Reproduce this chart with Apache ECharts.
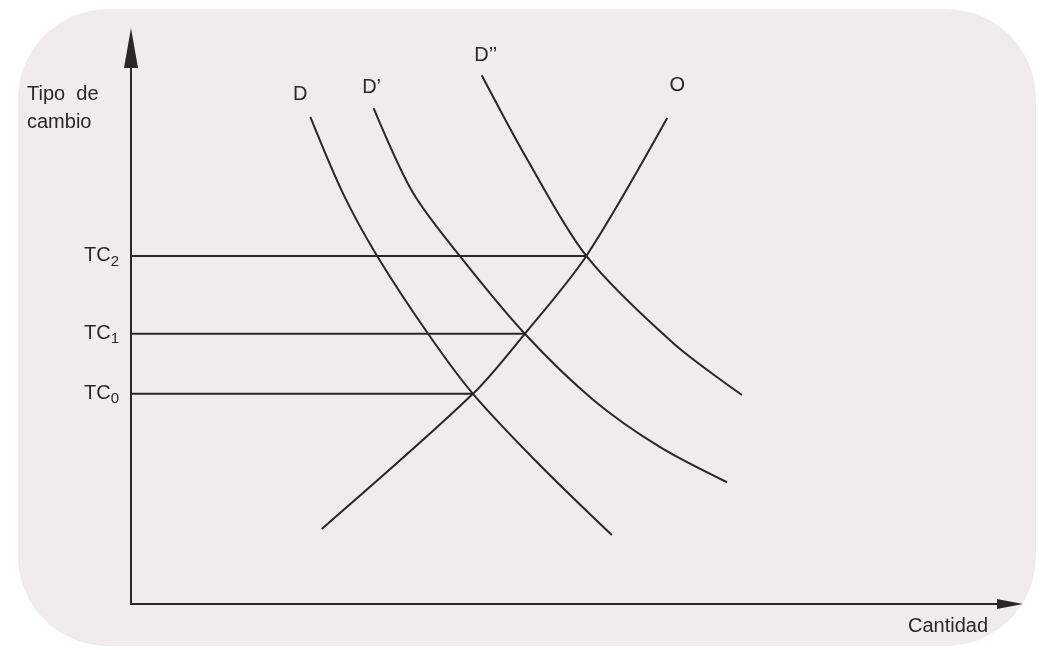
<!DOCTYPE html>
<html lang="es">
<head>
	<meta charset="UTF-8">
	<title>Tipo de cambio</title>
	<script src="https://cdn.jsdelivr.net/npm/echarts@6/dist/echarts.min.js"></script>
	<style>
		html, body { margin: 0; padding: 0; background: #fff; }
		#chart { width: 1042px; height: 650px; }
	</style>
</head>
<body>
	<div id="chart"></div>
	<script>
		// curves, [cantidad, tipo de cambio], top end first
		let demandaD   = [[20.4, 87.6], [24.1, 73.9], [28.0, 62.6], [33.8, 48.6], [38.9, 37.8], [46.5, 25.0], [54.7, 12.4]];
		let demandaD1  = [[27.6, 89.2], [32.1, 73.9], [37.4, 62.6], [44.8, 48.6], [52.6, 36.7], [60.2, 28.2], [67.8, 21.9]];
		let demandaD2  = [[39.9, 95.1], [45.1, 79.9], [51.8, 62.6], [61.7, 46.9], [69.5, 37.6]];
		let oferta     = [[61.0, 87.4], [51.8, 62.6], [44.8, 48.6], [38.9, 37.8], [21.7, 13.5]];

		// exchange-rate levels and where each horizontal line stops
		let tcNames = ['0', '1', '2'];
		let tcValues = [37.8, 48.6, 62.6];
		let tcEnds = [38.9, 44.8, 51.8];

		let ink = '#2a2727';
		let font = '"Liberation Sans", Arial, Helvetica, sans-serif';

		function curve(name, data, offset, distance) {
			return {
				name: name,
				type: 'line',
				smooth: 0.3,
				symbol: 'circle',
				symbolSize: 1,
				itemStyle: { color: 'transparent' },
				lineStyle: { color: ink, width: 2 },
				data: data.map((p, i) => {
					if (i !== 0) return p;
					return {
						value: p,
						label: {
							show: true, position: 'top', formatter: name,
							distance: distance, offset: offset,
							color: ink, fontSize: 20, fontFamily: font
						}
					};
				}),
				z: 3
			};
		}

		let series = [
			curve('D', demandaD, [-10, 0], 12),
			curve('D\u2019', demandaD1, [-2, 0], 10),
			curve('D\u2019\u2019', demandaD2, [4, 0], 9),
			curve('O', oferta, [10, 0], 22)
		];
		tcValues.forEach((v, i) => {
			series.push({
				name: 'TC' + tcNames[i],
				type: 'line',
				symbol: 'none',
				lineStyle: { color: ink, width: 2 },
				data: [[0, v], [tcEnds[i], v]],
				z: 2
			});
		});

		let chart = echarts.init(document.getElementById('chart'));
		chart.setOption({
			animation: false,
			backgroundColor: '#ffffff',
			graphic: [{
				type: 'rect', left: 18, top: 9, z: -10,
				shape: { width: 1018, height: 637, r: 90 },
				style: { fill: '#f1ecec' }
			}],
			grid: { left: 131, right: 32, top: 48, bottom: 46 },
			xAxis: {
				type: 'value', min: 0, max: 100,
				name: 'Cantidad',
				nameLocation: 'end',
				nameGap: -22,
				nameTextStyle: {
					align: 'right', verticalAlign: 'top', padding: [12, 0, 0, 0],
					color: ink, fontSize: 20, fontFamily: font
				},
				axisLine: {
					lineStyle: { color: ink, width: 2 },
					symbol: ['none', 'triangle'], symbolSize: [10, 26]
				},
				axisTick: { show: false },
				axisLabel: { show: false },
				splitLine: { show: false }
			},
			yAxis: {
				type: 'value', min: 0, max: 100,
				name: '{n|Tipo  de}\n{n|cambio}',
				nameLocation: 'end',
				nameGap: -60,
				nameTextStyle: {
					align: 'right', verticalAlign: 'middle', padding: [0, 24, 0, 0],
					rich: {
						n: { width: 80, align: 'left', color: ink, fontSize: 20, lineHeight: 28, fontFamily: font }
					}
				},
				axisLine: {
					lineStyle: { color: ink, width: 2 },
					symbol: ['none', 'triangle'], symbolSize: [14, 40]
				},
				axisTick: { show: false },
				splitLine: { show: false },
				axisLabel: {
					customValues: tcValues,
					margin: 12,
					formatter: v => 'TC{s|' + tcNames[tcValues.indexOf(v)] + '}',
					color: ink, fontSize: 20, fontFamily: font,
					verticalAlign: 'middle',
					rich: {
						s: { fontSize: 15, fontFamily: font, color: ink, padding: [11, 0, 0, 0] }
					}
				}
			},
			series: series
		});
	</script>
</body>
</html>
